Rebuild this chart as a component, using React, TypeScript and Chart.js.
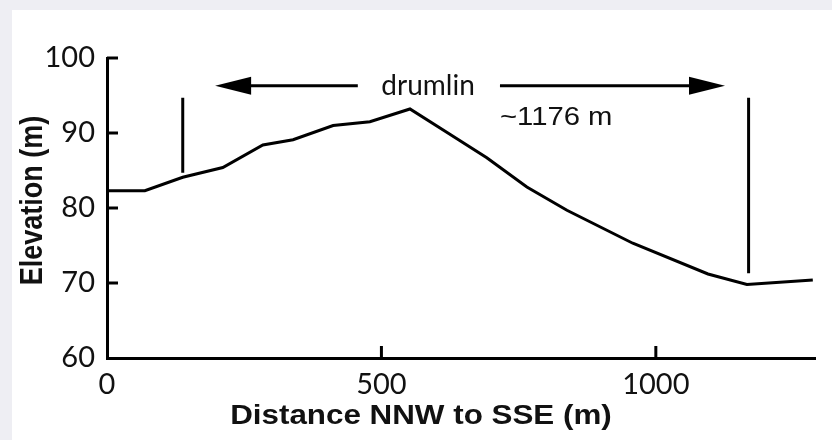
import React, { useEffect, useRef } from "react";
import { Chart, registerables } from "chart.js";

Chart.register(...registerables);

// Profile data (distance in m, elevation in m)
const distances = [0, 69, 138, 211, 284, 339, 412, 479, 552, 619, 692, 765, 838, 958, 1095, 1166, 1286];
const elevations = [82.3, 82.3, 84.1, 85.4, 88.4, 89.1, 91.0, 91.5, 93.2, 90.1, 86.7, 82.8, 79.7, 75.3, 71.2, 69.8, 70.4];

const xTicks = [0, 500, 1000];
const yTicks = [60, 70, 80, 90, 100];
const xMin = 0;
const xMax = 1290;
const yMin = 60;
const yMax = 100;

// Annotation values (data units)
const markerX = [138, 1169];
const markerTop = [94.7, 94.7];
const markerBottom = [84.7, 71.3];
const leftArrow = [457, 197]; // from, tip
const rightArrow = [716, 1126]; // from, tip
const arrowLevel = 96.3;
const drumlinLabel = "drumlin";
const drumlinPos = [585, 95.1];
const lengthLabel = "~1176 m";
const lengthPos = [716, 91.1];
const xTitle = "Distance NNW to SSE (m)";
const yTitle = "Elevation (m)";

const annotationPlugin = {
  id: "profileAnnotations",
  afterDraw(chart: any) {
    const { ctx, chartArea } = chart;
    const x = chart.scales.x;
    const y = chart.scales.y;
    ctx.save();
    ctx.strokeStyle = "#000";
    ctx.fillStyle = "#000";
    ctx.lineWidth = 3;
    ctx.lineCap = "butt";
    const line = (x1: number, y1: number, x2: number, y2: number) => {
      ctx.beginPath();
      ctx.moveTo(x1, y1);
      ctx.lineTo(x2, y2);
      ctx.stroke();
    };
    // inward tick marks
    yTicks.forEach((v) => {
      if (v === yMin) return;
      const py = y.getPixelForValue(v);
      line(chartArea.left, py, chartArea.left + 11, py);
    });
    xTicks.forEach((v) => {
      if (v === xMin) return;
      const px = x.getPixelForValue(v);
      line(px, chartArea.bottom, px, chartArea.bottom - 12);
    });
    // vertical markers
    markerX.forEach((d, i) => {
      const px = x.getPixelForValue(d);
      line(px, y.getPixelForValue(markerTop[i]), px, y.getPixelForValue(markerBottom[i]));
    });
    // arrows
    const arrow = (from: number, tip: number) => {
      const pf = x.getPixelForValue(from);
      const pt = x.getPixelForValue(tip);
      const py = y.getPixelForValue(arrowLevel);
      const dir = pt > pf ? 1 : -1;
      const headLen = 36;
      const half = 9;
      line(pf, py, pt - dir * headLen + dir * 2, py);
      ctx.beginPath();
      ctx.moveTo(pt, py);
      ctx.lineTo(pt - dir * headLen, py - half);
      ctx.lineTo(pt - dir * headLen, py + half);
      ctx.closePath();
      ctx.fill();
    };
    arrow(leftArrow[0], leftArrow[1]);
    arrow(rightArrow[0], rightArrow[1]);
    // labels
    ctx.fillStyle = "#111";
    ctx.font = "28px Lato";
    ctx.textAlign = "center";
    ctx.textBaseline = "alphabetic";
    ctx.fillText(drumlinLabel, x.getPixelForValue(drumlinPos[0]), y.getPixelForValue(drumlinPos[1]));

    ctx.save();
    ctx.translate(x.getPixelForValue(lengthPos[0]), y.getPixelForValue(lengthPos[1]));
    ctx.scale(1.17, 1);
    ctx.font = "25px 'Liberation Sans'";
    ctx.textAlign = "left";
    ctx.fillText(lengthLabel, 0, 0);
    ctx.restore();

    // axis titles
    ctx.save();
    ctx.translate(x.getPixelForValue(572), chartArea.bottom + 66);
    ctx.scale(1.12, 1);
    ctx.font = "bold 28px 'Liberation Sans'";
    ctx.textAlign = "center";
    ctx.fillText(xTitle, 0, 0);
    ctx.restore();

    ctx.save();
    ctx.translate(22, y.getPixelForValue(81.0));
    ctx.rotate(-Math.PI / 2);
    ctx.scale(1, 1.13);
    ctx.font = "bold 27px 'Liberation Sans'";
    ctx.textAlign = "center";
    ctx.textBaseline = "middle";
    ctx.fillText(yTitle, 0, 0);
    ctx.restore();

    ctx.restore();
  },
};

export default function App() {
  const canvasRef = useRef<HTMLCanvasElement | null>(null);

  useEffect(() => {
    const canvas = canvasRef.current;
    if (!canvas) return;
    const chart = new Chart(canvas, {
      type: "line",
      data: {
        datasets: [
          {
            label: "Elevation",
            data: distances.map((d, i) => ({ x: d, y: elevations[i] })),
            borderColor: "#000",
            borderWidth: 3,
            pointRadius: 0,
            tension: 0,
            fill: false,
          },
        ],
      },
      options: {
        animation: false,
        responsive: false,
        maintainAspectRatio: false,
        events: [],
        layout: { padding: { top: 48, right: 17, left: 0, bottom: 0 } },
        plugins: {
          legend: { display: false },
          tooltip: { enabled: false },
          title: { display: false },
        },
        scales: {
          x: {
            type: "linear",
            min: xMin,
            max: xMax,
            afterBuildTicks: (s: any) => {
              s.ticks = xTicks.map((v) => ({ value: v }));
            },
            afterFit: (s: any) => {
              s.height = 82;
            },
            grid: { display: true, drawOnChartArea: false, drawTicks: false },
            border: { display: true, color: "#000", width: 3 },
            ticks: {
              padding: 9,
              color: "#111",
              font: { family: "Lato", size: 29 },
              maxRotation: 0,
              autoSkip: false,
              callback: (v: any) => String(v),
            },
          },
          y: {
            type: "linear",
            min: yMin,
            max: yMax,
            afterBuildTicks: (s: any) => {
              s.ticks = yTicks.map((v) => ({ value: v }));
            },
            afterFit: (s: any) => {
              s.width = 95;
            },
            grid: { display: true, drawOnChartArea: false, drawTicks: false },
            border: { display: true, color: "#000", width: 3 },
            ticks: {
              padding: 12,
              color: "#111",
              font: { family: "Lato", size: 29 },
              autoSkip: false,
              callback: (v: any) => String(v),
            },
          },
        },
      },
      plugins: [annotationPlugin],
    });
    return () => chart.destroy();
  }, []);

  return (
    <div
      style={{
        position: "fixed",
        left: 0,
        top: 0,
        width: 832,
        height: 440,
        background: "#eeeef3",
        overflow: "hidden",
      }}
    >
      <canvas
        ref={canvasRef}
        width={820}
        height={430}
        style={{ position: "absolute", left: 12, top: 10, width: 820, height: 430, background: "#fff" }}
      />
    </div>
  );
}
